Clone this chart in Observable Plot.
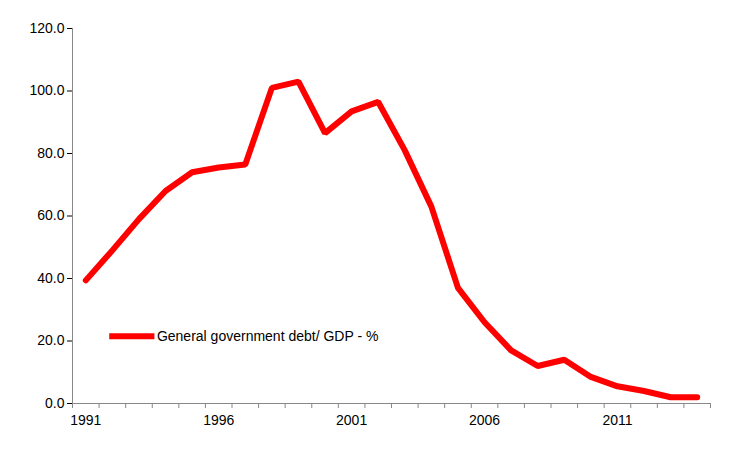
<!DOCTYPE html>
<html><head><meta charset="utf-8">
<script src="https://cdn.jsdelivr.net/npm/d3@7"></script>
<script src="https://cdn.jsdelivr.net/npm/@observablehq/plot@0.6"></script>
<style>body{margin:0;background:#fff}</style>
</head><body><div id="c"></div>
<script>
const years = d3.range(1991, 2015);
const debt = [39.4,49,59,68,74,75.5,76.5,101,103,86.5,93.5,96.5,81,63,37,26,17,12,14,8.5,5.5,4,2,2];
const yTicks = [0,20,40,60,80,100,120];
const xLabels = [1991,1996,2001,2006,2011];
const seriesName = "General government debt/ GDP - %";
const data = years.map((y,i)=>({year:y, v:debt[i]}));
const chart = Plot.plot({
  width:753, height:450,
  marginLeft:72, marginRight:43, marginTop:28, marginBottom:47,
  style:{fontFamily:"Liberation Sans, Arial", fontSize:"14px", color:"#000"},
  x:{domain:[1990.5,2014.5], label:null},
  y:{domain:[0,120], label:null},
  marks:[
    Plot.axisY({ticks:yTicks, tickFormat:d=>d.toFixed(1), tickSize:5, tickPadding:3, fontSize:14, label:null}),
    Plot.ruleX([1990.5],{stroke:"#888"}),
    Plot.ruleY([0],{stroke:"#888"}),
    Plot.axisX({ticks:d3.range(1990.5,2015,1), tickFormat:()=>"", tickSize:5, stroke:"#888", label:null}),
    Plot.axisX({ticks:xLabels, tickFormat:d=>String(d), tickSize:0, tickPadding:12, fontSize:14, label:null}),
    Plot.line(data,{x:"year", y:"v", stroke:"#ff0000", strokeWidth:6, strokeLinejoin:"miter"}),
    Plot.ruleY([21.5],{x1:1991.9, x2:1993.6, stroke:"#ff0000", strokeWidth:6}),
    Plot.text([seriesName],{x:1993.6, y:21.5, textAnchor:"start", dx:2, fontSize:14, fill:"#000"})
  ]
});
document.getElementById("c").append(chart);
</script></body></html>
